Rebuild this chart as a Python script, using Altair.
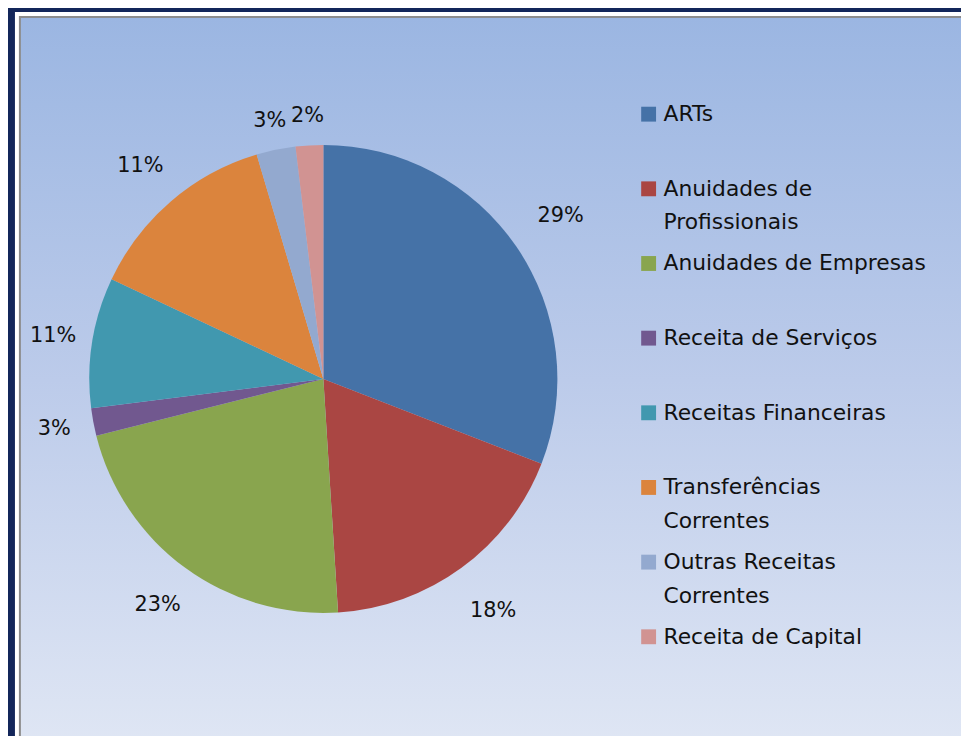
import altair as alt
import pandas as pd

categories = ["ARTs", "Anuidades de Profissionais", "Anuidades de Empresas",
              "Receita de Serviços", "Receitas Financeiras",
              "Transferências Correntes", "Outras Receitas Correntes",
              "Receita de Capital"]
shares = [30.9, 18.1, 22.1, 1.9, 9.0, 13.4, 2.7, 1.9]
pct_labels = ["29%", "18%", "23%", "3%", "11%", "11%", "3%", "2%"]
legend_line1 = ["ARTs", "Anuidades de", "Anuidades de Empresas", "Receita de Serviços",
                "Receitas Financeiras", "Transferências", "Outras Receitas",
                "Receita de Capital"]
legend_line2 = ["", "Profissionais", "", "", "", "Correntes", "Correntes", ""]
colors = ["#4572A7", "#AA4643", "#89A54E", "#71588F", "#4198AF", "#DB843D",
          "#93A9CF", "#D19392"]

df = pd.DataFrame({
    "idx": list(range(len(categories))),
    "cat": categories,
    "share": shares,
    "label": pct_labels,
    "l1": legend_line1,
    "l2": legend_line2,
})

FONT = "DejaVu Sans"
W, H = 961, 728
CX, CY, R = 318, 371, 236

color = alt.Color("cat:N", scale=alt.Scale(domain=categories, range=colors), legend=None)
base = alt.Chart(df)

panel_bg = alt.Chart(pd.DataFrame({"a": [0]})).mark_rect(color="#ffffff").encode(
    x=alt.value(7), x2=alt.value(W + 10), y=alt.value(1), y2=alt.value(H + 10))
panel_border = alt.Chart(pd.DataFrame({"a": [0]})).mark_rect(
    color={"gradient": "linear", "x1": 0, "y1": 0, "x2": 0, "y2": 1,
           "stops": [{"offset": 0, "color": "#9bb6e2"},
                     {"offset": 0.5, "color": "#bccbea"},
                     {"offset": 1, "color": "#dfe6f4"}]},
    stroke="#8c8c8c", strokeWidth=2).encode(
    x=alt.value(12), x2=alt.value(W + 10), y=alt.value(6), y2=alt.value(H + 10))

pie = base.mark_arc(stroke=None).encode(
    theta=alt.Theta("share:Q", stack=True),
    order=alt.Order("idx:Q"),
    color=color,
    x=alt.value(CX), y=alt.value(CY),
    radius=alt.value(R),
)


def pct_layer(members, radius):
    return base.mark_text(font=FONT, fontSize=21, color="#111111",
                          baseline="middle", align="center").encode(
        theta=alt.Theta("share:Q", stack=True),
        order=alt.Order("idx:Q"),
        x=alt.value(CX), y=alt.value(CY),
        radius=alt.value(radius),
        text=alt.Text("shown:N"),
    ).transform_calculate(
        shown=f"indexof({members}, datum.idx) >= 0 ? datum.label : ''"
    )


pct_right = pct_layer([0, 1], 290)
pct_outer = pct_layer([2, 5], 283)
pct_mid = pct_layer([3, 4], 276)
pct_top = pct_layer([6, 7], 266)

yscale = alt.Scale(domain=categories, range=[104, 631], type="point", padding=0)
leg_sym = base.mark_square(size=225, opacity=1).encode(
    x=alt.value(646), y=alt.Y("cat:N", scale=yscale, axis=None), color=color)
leg_t1 = base.mark_text(font=FONT, fontSize=22, color="#111111", align="left", baseline="middle").encode(
    x=alt.value(661), y=alt.Y("cat:N", scale=yscale, axis=None), text="l1:N")
leg_t2 = base.mark_text(font=FONT, fontSize=22, color="#111111", align="left", baseline="middle", dy=34).encode(
    x=alt.value(661), y=alt.Y("cat:N", scale=yscale, axis=None), text="l2:N")

chart = alt.layer(panel_bg, panel_border, pie, pct_right, pct_outer, pct_mid, pct_top,
                  leg_sym, leg_t1, leg_t2).properties(
    width=W, height=H, background="#13265a", padding=0, autosize="none"
).configure_view(stroke=None)

chart.save("out.html", embed_options={"renderer": "svg", "actions": False})
